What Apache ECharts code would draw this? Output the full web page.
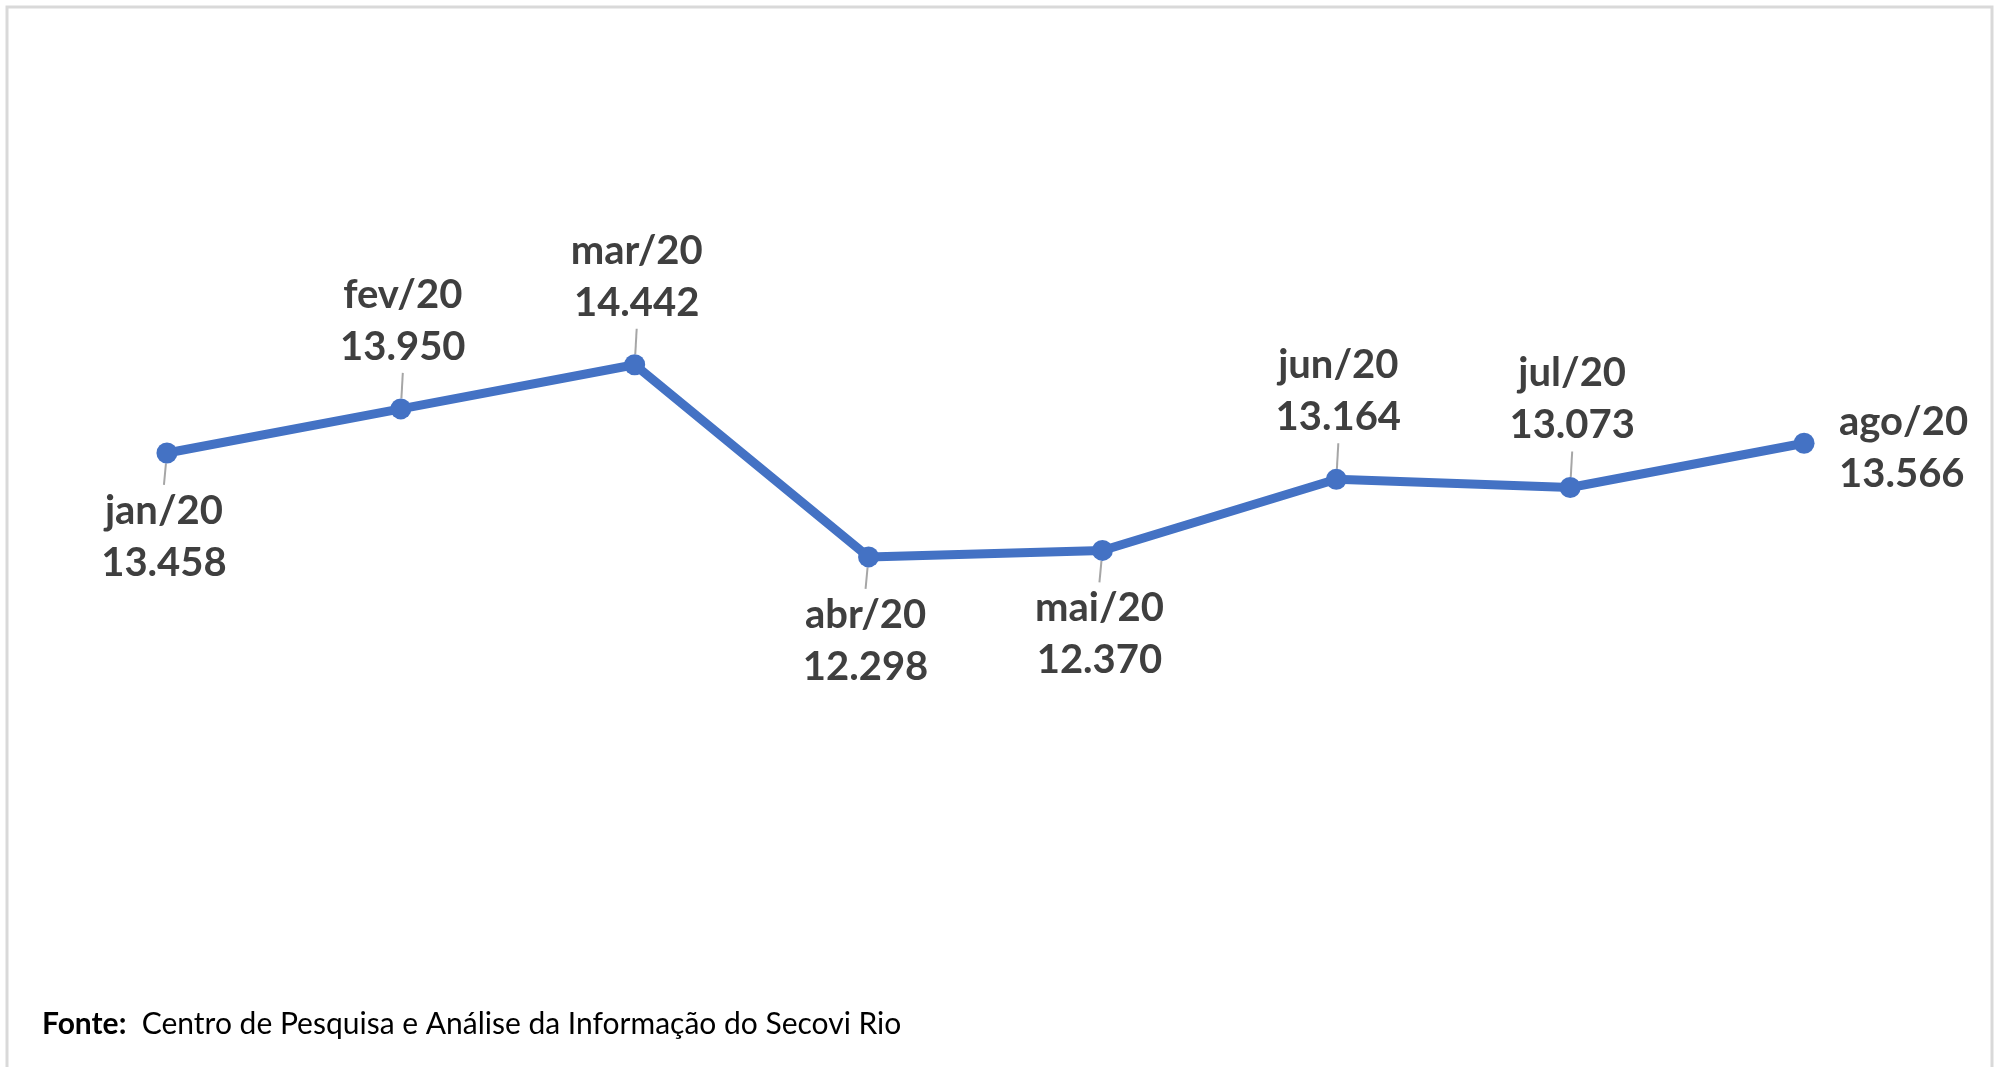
<!DOCTYPE html>
<html>
<head>
<meta charset="utf-8">
<script src="https://cdn.jsdelivr.net/npm/echarts@6/dist/echarts.min.js"></script>
<style>
  html, body { margin: 0; padding: 0; background: #ffffff; }
  #main { width: 2000px; height: 1067px; }
</style>
</head>
<body>
<div id="main"></div>
<script>
// data
var months = ["jan/20", "fev/20", "mar/20", "abr/20", "mai/20", "jun/20", "jul/20", "ago/20"];
var values = [13458, 13950, 14442, 12298, 12370, 13164, 13073, 13566];
// where each label sits relative to its point
var labelSide = ["below", "above", "above", "below", "below", "above", "above", "right"];

var sourceText = "Centro de Pesquisa e Análise da Informação do Secovi Rio";

function fmt(v) {
  // pt-BR thousands separator
  return String(v).replace(/\B(?=(\d{3})+(?!\d))/g, ".");
}

var chart = echarts.init(document.getElementById("main"));

var seriesData = values.map(function (v, i) {
  return {
    value: v,
    labelLine: { show: labelSide[i] !== "right" }
  };
});

var option = {
  backgroundColor: "#ffffff",
  animation: false,
  grid: {
    left: 50,
    right: 79,
    top: 46,
    bottom: 125
  },
  xAxis: {
    type: "category",
    data: months,
    boundaryGap: true,
    show: false
  },
  yAxis: {
    type: "value",
    min: 8000,
    max: 18000,
    show: false
  },
  title: {
    left: 37,
    top: 1004,
    text: "{b|Fonte:}  " + sourceText,
    textStyle: {
      fontFamily: "Lato",
      fontSize: 30,
      fontWeight: "normal",
      color: "#000000",
      rich: {
        b: { fontFamily: "Lato", fontSize: 30, fontWeight: "bold", color: "#000000" }
      }
    }
  },
  graphic: [
    {
      type: "rect",
      shape: { x: 7, y: 7, width: 1985, height: 1100 },
      style: { fill: null, stroke: "#d9d9d9", lineWidth: 3 },
      silent: true
    }
  ],
  series: [
    {
      type: "line",
      data: seriesData,
      symbol: "circle",
      symbolSize: 21,
      lineStyle: { color: "#4472c4", width: 9 },
      itemStyle: { color: "#4472c4" },
      label: {
        show: true,
        fontFamily: "Lato",
        fontSize: 40,
        fontWeight: "bold",
        lineHeight: 52,
        color: "#3f3f3f",
        formatter: function (p) {
          return p.name + "\n" + fmt(p.value);
        }
      },
      labelLine: {
        show: true,
        lineStyle: { color: "#a6a6a6", width: 2 }
      },
      labelLayout: function (p) {
        var cx = p.rect.x + p.rect.width / 2;
        var cy = p.rect.y + p.rect.height / 2;
        var side = labelSide[p.dataIndex];
        if (side === "right") {
          return { x: cx + 35, y: cy + 5, align: "left", verticalAlign: "middle" };
        }
        if (side === "below") {
          return { x: cx - 3, y: cy + 84, align: "center", verticalAlign: "middle" };
        }
        return { x: cx + 2, y: cy - 88, align: "center", verticalAlign: "middle" };
      }
    }
  ]
};

chart.setOption(option);
</script>
</body>
</html>
